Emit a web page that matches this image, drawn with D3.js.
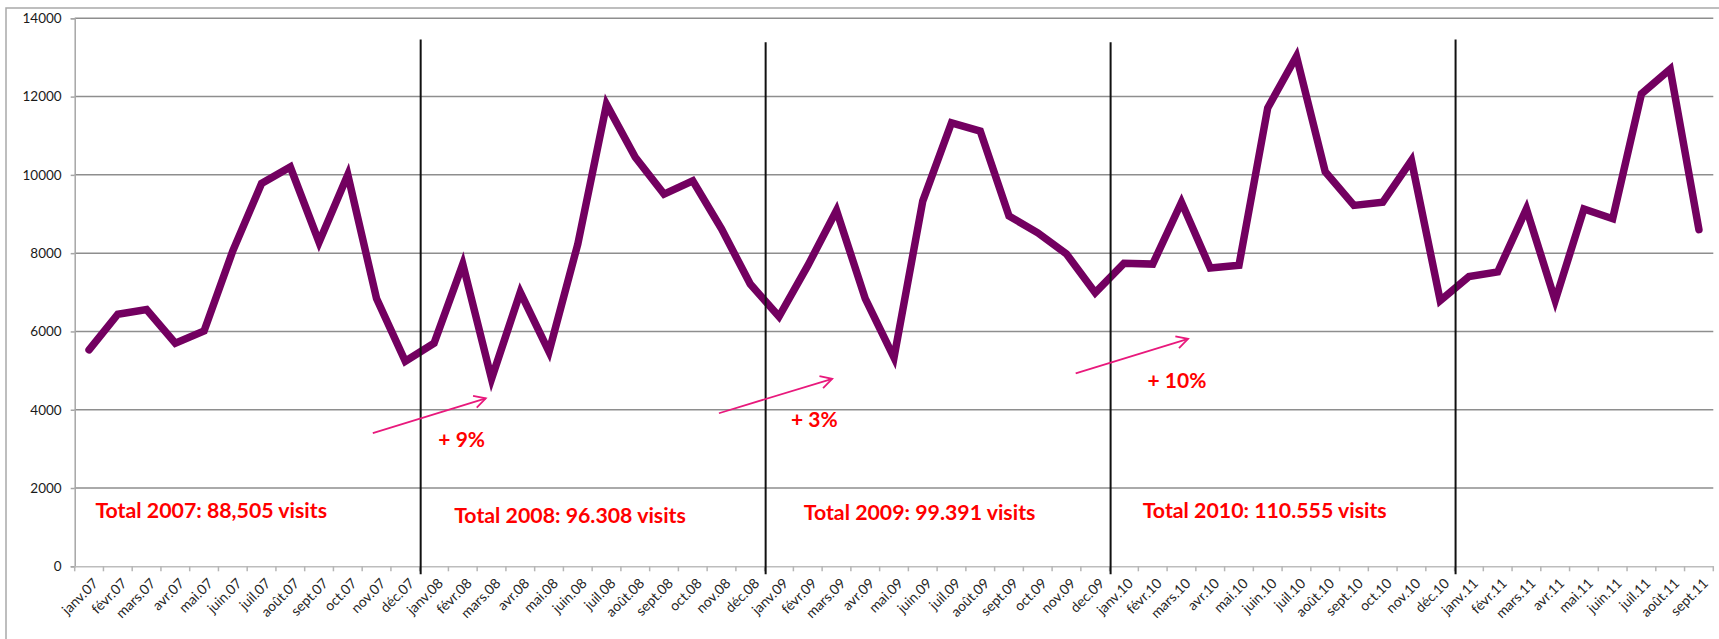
<!DOCTYPE html>
<html>
<head>
<meta charset="utf-8">
<script src="https://cdn.jsdelivr.net/npm/d3@7"></script>
<style>
  html, body { margin: 0; padding: 0; background: #fff; }
  svg { display: block; }
</style>
</head>
<body>
<svg id="chart" width="1719" height="639"></svg>
<script>
// ---- Data ----
const months = [
  "janv.07","févr.07","mars.07","avr.07","mai.07","juin.07","juil.07","août.07","sept.07","oct.07","nov.07","déc.07",
  "janv.08","févr.08","mars.08","avr.08","mai.08","juin.08","juil.08","août.08","sept.08","oct.08","nov.08","déc.08",
  "janv.09","févr.09","mars.09","avr.09","mai.09","juin.09","juil.09","août.09","sept.09","oct.09","nov.09","dec.09",
  "janv.10","févr.10","mars.10","avr.10","mai.10","juin.10","juil.10","août.10","sept.10","oct.10","nov.10","déc.10",
  "janv.11","févr.11","mars.11","avr.11","mai.11","juin.11","juil.11","août.11","sept.11"
];
const visits = [
  5530, 6440, 6560, 5700, 6010, 8060, 9780, 10200, 8280, 10000, 6840, 5240,
  5700, 7720, 4790, 7000, 5480, 8230, 11800, 10450, 9510, 9850, 8620, 7210,
  6380, 7680, 9090, 6840, 5330, 9330, 11330, 11120, 8950, 8520, 7980, 6990,
  7740, 7720, 9300, 7620, 7690, 11710, 13030, 10080, 9220, 9300, 10370, 6790,
  7400, 7520, 9130, 6790, 9130, 8880, 12070, 12700, 8600
];
const yTicks = [0, 2000, 4000, 6000, 8000, 10000, 12000, 14000];

// year separators (month label where a new year starts) and their top value
const separators = ["janv.08", "janv.09", "janv.10", "janv.11"];
const separatorTops = [13460, 13390, 13390, 13460];

// annotation texts: position in month-index units and value units
const totalLabels = ["Total 2007: 88,505 visits", "Total 2008: 96.308 visits", "Total 2009: 99.391 visits", "Total 2010: 110.555 visits"];
const totalPos = [0.72, 13.2, 25.36, 37.15];
const totalVal = [1230, 1115, 1185, 1230];

const growthLabels = ["+ 9%", "+ 3%", "+ 10%"];
const growthPos = [12.65, 24.92, 37.32];
const growthVal = [3040, 3550, 4550];

// arrows: [fromIdx, fromVal, toIdx, toVal]
const arrowFromIdx = [10.37, 22.41, 34.82];
const arrowFromVal = [3400, 3910, 4930];
const arrowToIdx = [14.3, 26.35, 38.73];
const arrowToVal = [4290, 4790, 5810];

// ---- Layout ----
const svg = d3.select("#chart");
const plotLeft = 74.7, plotRight = 1713.3, plotTop = 18.3, plotBottom = 566.3;

const x = d3.scaleBand().domain(months).range([plotLeft, plotRight]).paddingInner(0).paddingOuter(0);
const xi = d3.scaleLinear().domain([0, months.length]).range([plotLeft, plotRight]);
const y = d3.scaleLinear().domain([0, 14000]).range([plotBottom, plotTop]);

const font = "Lato, 'Open Sans', 'Liberation Sans', sans-serif";

// outer chart border
svg.append("rect")
  .attr("x", 6).attr("y", 8).attr("width", 1760).attr("height", 700)
  .attr("fill", "none").attr("stroke", "#a9a9a9").attr("stroke-width", 1.5);

// gridlines
svg.append("g").selectAll("line").data(yTicks.filter(d => d > 0)).join("line")
  .attr("x1", plotLeft).attr("x2", plotRight)
  .attr("y1", d => y(d)).attr("y2", d => y(d))
  .attr("stroke", "#8e8e8e").attr("stroke-width", 1.5);

// y axis
const yAxis = d3.axisLeft(y).tickValues(yTicks).tickSize(4).tickPadding(9).tickFormat(d3.format("d"));
const gy = svg.append("g").attr("transform", `translate(${plotLeft},0)`).call(yAxis);
gy.select(".domain").attr("stroke", "#a6a6a6").attr("stroke-width", 1.5);
gy.selectAll(".tick line").attr("stroke", "#a6a6a6").attr("stroke-width", 1.5);
gy.selectAll(".tick text").attr("font-family", font).attr("font-size", 13.5).attr("fill", "#1a1a1a");

// x axis
const xAxis = d3.axisBottom(x).tickSize(0).tickPadding(0);
const gx = svg.append("g").attr("transform", `translate(0,${plotBottom})`).call(xAxis);
gx.select(".domain").attr("stroke", "#bdbdbd").attr("stroke-width", 1.5);
gx.selectAll(".tick line").remove();
gx.selectAll(".tick text")
  .attr("font-family", font).attr("font-size", 14).attr("fill", "#262626")
  .attr("text-anchor", "end")
  .attr("transform", "translate(10,18) rotate(-45)")
  .attr("y", 0).attr("dy", "0");
// tick marks at band boundaries
const boundaries = d3.range(months.length + 1);
svg.append("g").selectAll("line").data(boundaries).join("line")
  .attr("x1", d => xi(d)).attr("x2", d => xi(d))
  .attr("y1", plotBottom).attr("y2", plotBottom + 5)
  .attr("stroke", "#b5b5b5").attr("stroke-width", 1.5);

// main line
const line = d3.line()
  .x((d, i) => x(months[i]) + x.bandwidth() / 2)
  .y(d => y(d))
  .curve(d3.curveLinear);
svg.append("path").datum(visits)
  .attr("d", line)
  .attr("fill", "none")
  .attr("stroke", "#730060")
  .attr("stroke-width", 7.5)
  .attr("stroke-linejoin", "miter")
  .attr("stroke-linecap", "round");

// year separators
svg.append("g").selectAll("line").data(separators).join("line")
  .attr("x1", d => x(d) + 1).attr("x2", d => x(d) + 1)
  .attr("y1", (d, i) => y(separatorTops[i]))
  .attr("y2", plotBottom + 8)
  .attr("stroke", "#111").attr("stroke-width", 2);

// arrows
const arrowColor = "#e8197c";
const ag = svg.append("g");
arrowFromIdx.forEach((fi, i) => {
  const x1 = xi(fi), y1 = y(arrowFromVal[i]), x2 = xi(arrowToIdx[i]), y2 = y(arrowToVal[i]);
  ag.append("line").attr("x1", x1).attr("y1", y1).attr("x2", x2).attr("y2", y2)
    .attr("stroke", arrowColor).attr("stroke-width", 1.8);
  const ang = Math.atan2(y2 - y1, x2 - x1);
  const L = 13, spread = 0.5;
  const p1 = [x2 - L * Math.cos(ang - spread), y2 - L * Math.sin(ang - spread)];
  const p2 = [x2 - L * Math.cos(ang + spread), y2 - L * Math.sin(ang + spread)];
  ag.append("path").attr("d", `M${p1[0]},${p1[1]}L${x2},${y2}L${p2[0]},${p2[1]}`)
    .attr("fill", "none").attr("stroke", arrowColor).attr("stroke-width", 1.8)
    .attr("stroke-linejoin", "miter");
});

// annotation texts
svg.append("g").selectAll("text").data(totalLabels).join("text")
  .attr("x", (d, i) => xi(totalPos[i]))
  .attr("y", (d, i) => y(totalVal[i]))
  .attr("font-family", font).attr("font-weight", "bold").attr("font-size", 21.3)
  .attr("fill", "#ff0000")
  .text(d => d);

svg.append("g").selectAll("text").data(growthLabels).join("text")
  .attr("x", (d, i) => xi(growthPos[i]))
  .attr("y", (d, i) => y(growthVal[i]))
  .attr("font-family", font).attr("font-weight", "bold").attr("font-size", 21)
  .attr("fill", "#ff0000")
  .text(d => d);
</script>
</body>
</html>
